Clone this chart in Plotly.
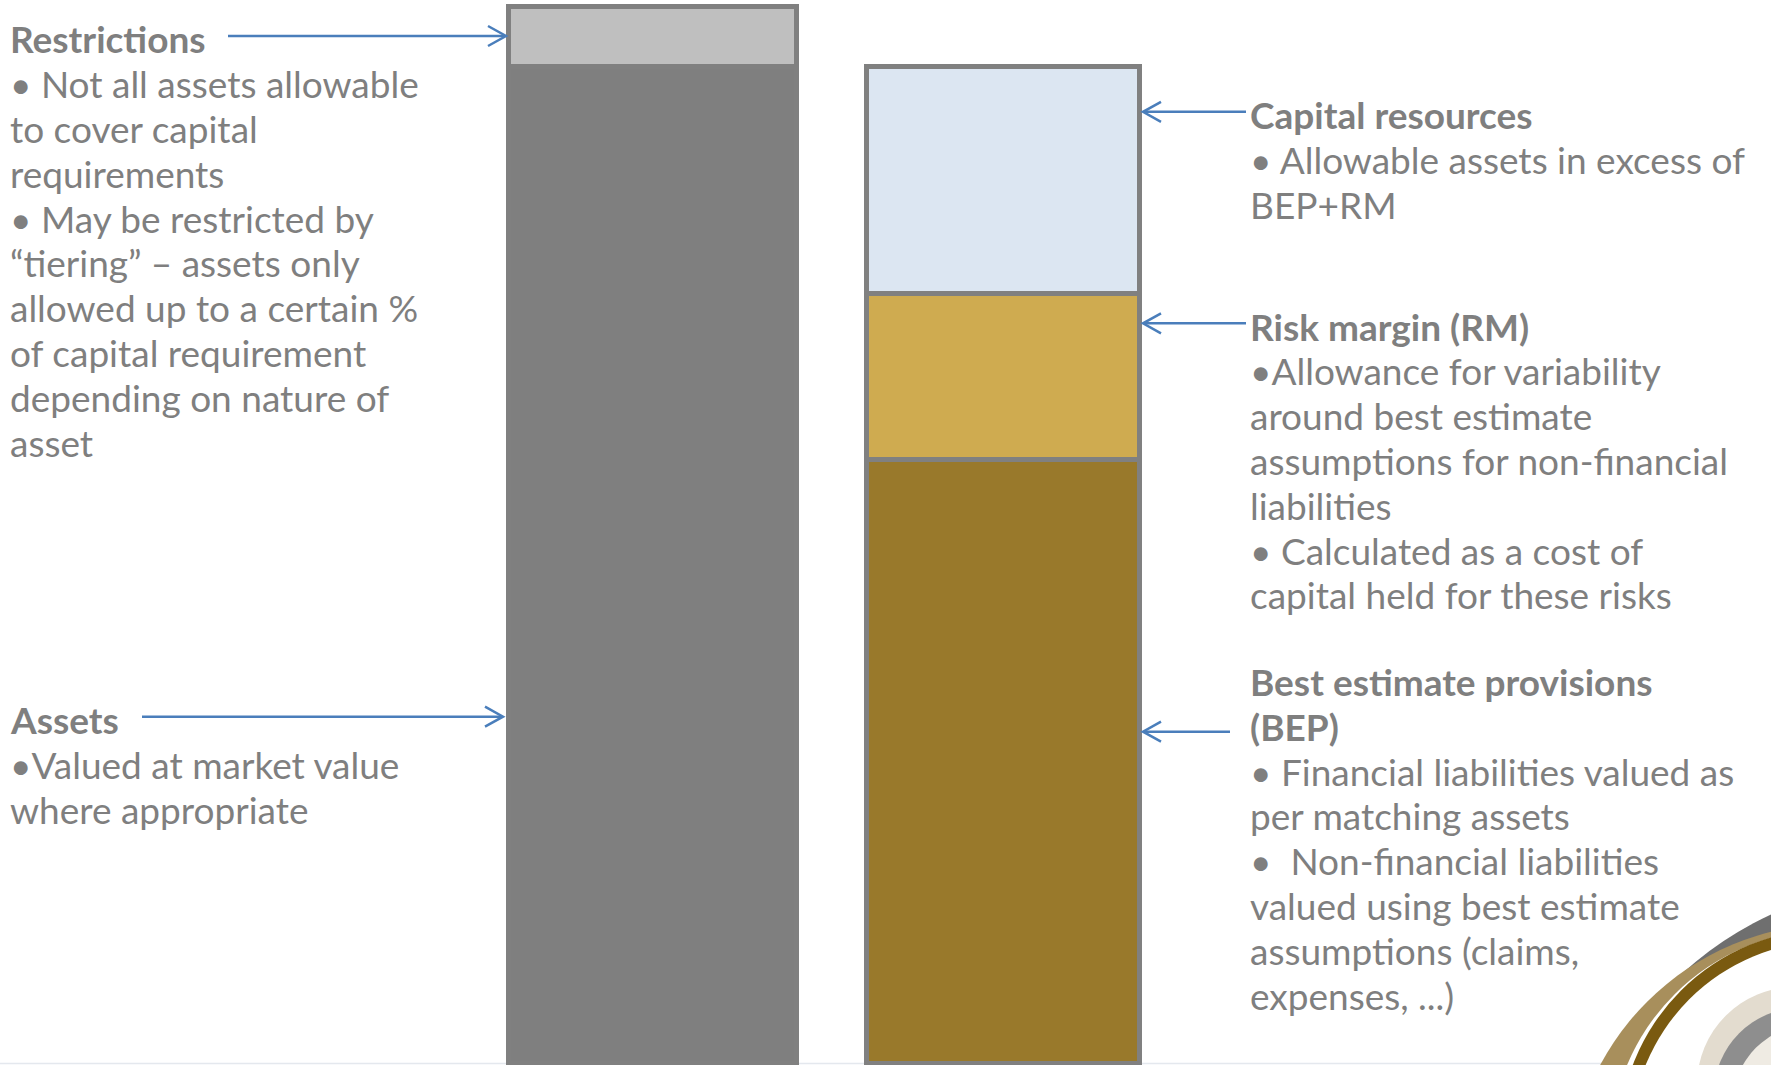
import plotly.graph_objects as go

# ---------------- data ----------------
categories = ["Assets", "Liabilities"]
assets = [100.0, None]
restrictions = [6.0, None]
best_estimate_provisions = [None, 60.5]
risk_margin = [None, 16.7]
capital_resources = [None, 22.8]

restrictions_text = [
    "<b>Restrictions</b>",
    "• Not all assets allowable",
    "to cover capital",
    "requirements",
    "• May be restricted by",
    "“tiering” – assets only",
    "allowed up to a certain %",
    "of capital requirement",
    "depending on nature of",
    "asset",
]
assets_text = [
    "<b>Assets</b>",
    "•Valued at market value",
    "where appropriate",
]
capital_text = [
    "<b>Capital resources</b>",
    "• Allowable assets in excess of",
    "BEP+RM",
]
rm_text = [
    "<b>Risk margin (RM)</b>",
    "•Allowance for variability",
    "around best estimate",
    "assumptions for non-financial",
    "liabilities",
    "• Calculated as a cost of",
    "capital held for these risks",
]
bep_text = [
    "<b>Best estimate provisions</b>",
    "<b>(BEP)</b>",
    "• Financial liabilities valued as",
    "per matching assets",
    "•  Non-financial liabilities",
    "valued using best estimate",
    "assumptions (claims,",
    "expenses, ...)",
]

# ---------------- layout helpers ----------------
W, H = 1771, 1065
GREY = "#7f7f7f"
BLUE = "#4a7ebb"


def px(x):
    return x / W


def py(y):
    return 1 - y / H


fig = go.Figure()

bar_w = [0.82, 0.777]
edge = dict(color="#808080", width=5)
series = [
    ("Assets", assets, "#7f7f7f"),
    ("Restrictions", restrictions, "#bfbfbf"),
    ("Best estimate provisions", best_estimate_provisions, "#99792b"),
    ("Risk margin", risk_margin, "#cfab50"),
    ("Capital resources", capital_resources, "#dce6f2"),
]
for name, vals, col in series:
    fig.add_trace(go.Bar(
        x=categories, y=vals, name=name, width=bar_w,
        marker=dict(color=col, line=edge),
        hoverinfo="skip", showlegend=False,
    ))

shapes = []
# faint slide edge line at bottom
shapes.append(dict(type="line", xref="paper", yref="paper", layer="below",
                   x0=0, x1=1, y0=py(1063.5), y1=py(1063.5),
                   line=dict(color="#e4e8ee", width=1.5)))


def arrow(x_start, x_tip, y):
    d = 1 if x_tip > x_start else -1
    shapes.append(dict(type="line", xref="paper", yref="paper",
                       x0=px(x_start), x1=px(x_tip - d * 1), y0=py(y), y1=py(y),
                       line=dict(color=BLUE, width=2.5)))
    path = "M {a},{b} L {c},{d} L {e},{f}".format(
        a=px(x_tip - d * 18), b=py(y - 10),
        c=px(x_tip), d=py(y),
        e=px(x_tip - d * 18), f=py(y + 10))
    shapes.append(dict(type="path", xref="paper", yref="paper", path=path,
                       line=dict(color=BLUE, width=2.5)))


arrow(228, 506, 36)
arrow(142, 503, 716.7)
arrow(1246, 1143, 111.8)
arrow(1246, 1143, 323.3)
arrow(1230, 1143, 731.7)


# decorative logo (bottom right) built from layered discs
def disc(cx, cy, r, fill):
    shapes.append(dict(type="circle", xref="paper", yref="paper",
                       x0=px(cx - r), x1=px(cx + r), y0=py(cy + r), y1=py(cy - r),
                       fillcolor=fill, line=dict(width=0)))


disc(1920, 1235, 353.5, "#6f6f6f")   # grey crescent (top)
disc(1835, 1190, 266, "#a88f5c")     # tan band
disc(1830, 1150, 220, "#ffffff")     # gap
disc(1830, 1140, 211, "#7a5a10")     # brown band
disc(1830, 1140, 199, "#ffffff")     # inner white
disc(1795, 1085, 98, "#e3dccf")      # sphere
disc(1800, 1094, 86, "#8e8e8e")      # sphere grey crescent
disc(1811, 1103, 78, "#efebe3")      # sphere highlight

annotations = []
FS = 37
PITCH = 44.8


def block(lines, x, y0):
    for i, t in enumerate(lines):
        annotations.append(dict(
            text=t, xref="paper", yref="paper", x=px(x), y=py(y0 + i * PITCH),
            xanchor="left", yanchor="middle", showarrow=False, align="left",
            font=dict(family="Lato", size=FS, color=GREY)))


block(restrictions_text, 8, 39)
block(assets_text, 8, 719.5)
block(capital_text, 1248, 114.5)
block(rm_text, 1248, 326)
block(bep_text, 1248, 681.5)

y_per_unit = 9.97
fig.update_layout(
    width=W, height=H,
    margin=dict(l=0, r=0, t=0, b=0),
    paper_bgcolor="white", plot_bgcolor="white",
    barmode="stack", bargap=0,
    hovermode=False,
    xaxis=dict(range=[-1.862, 3.1879], visible=False, type="category"),
    yaxis=dict(range=[-1.5 / y_per_unit, 1063.5 / y_per_unit], visible=False),
    shapes=shapes, annotations=annotations,
)

fig.write_html(
    "out.html",
    config={"displayModeBar": False},
    post_script="document.body.style.margin='0';document.body.style.overflow='hidden';",
)
